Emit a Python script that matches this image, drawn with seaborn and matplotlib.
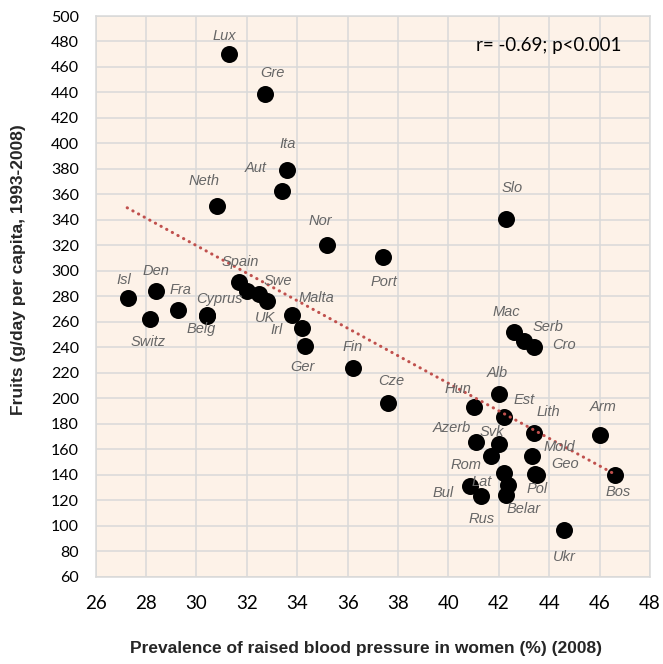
import matplotlib
matplotlib.use("Agg")
import matplotlib.pyplot as plt
import seaborn as sns
import pandas as pd

# ---- data ----
countries = ["Lux", "Gre", "Ita", "Aut", "Neth", "Nor", "Port", "Slo",
             "Isl", "Den", "Switz", "Fra", "Cyprus", "Belg", "Spain", "", "Swe", "UK",
             "Malta", "Irl", "Ger", "Fin", "Cze",
             "Mac", "Serb", "Cro", "Alb", "Hun", "Est", "Lith", "Arm", "Azerb", "Svk",
             "", "Mold", "Rom", "Pol", "Geo", "Bos", "Bul", "Rus", "Lat", "Belar", "Ukr"]
bp_women = [31.3, 32.7, 33.6, 33.4, 30.8, 35.2, 37.4, 42.3,
            27.3, 28.4, 28.15, 29.25, 30.4, 30.4, 31.7, 32.0, 32.5, 32.8,
            33.8, 34.2, 34.3, 36.2, 37.6,
            42.6, 43.0, 43.4, 42.0, 41.0, 42.2, 43.4, 46.0, 41.1, 42.0,
            41.7, 43.3, 42.2, 43.5, 43.45, 46.6, 40.85, 41.3, 42.35, 42.3, 44.6]
fruits = [470, 439, 379, 363, 351, 320, 311, 341,
          279, 284, 262, 269, 265, 264.5, 291, 284, 282, 276,
          265, 255, 241, 224, 196,
          252, 245, 240, 203, 193, 185, 173, 171, 166, 164,
          155, 155, 141.5, 140, 140.5, 140, 131, 123.5, 132, 124, 97]

# trend line end points
trend_x = [27.25, 46.55]
trend_y = [349.5, 141.0]

x_ticks = list(range(26, 49, 2))
y_ticks = list(range(60, 501, 20))
stat_text = "r= -0.69; p<0.001"
x_title = "Prevalence of raised blood pressure in women (%) (2008)"
y_title = "Fruits (g/day per capita, 1993-2008)"

# label offsets in pixels (layout only)
label_offsets = {
    "Lux": (-5, 18), "Gre": (8, 21), "Ita": (0, 26), "Aut": (-26, 23), "Neth": (-13, 25),
    "Nor": (-7, 24), "Port": (1, -25), "Slo": (6, 31), "Isl": (-5, 18), "Den": (0, 20),
    "Switz": (-2, -23), "Fra": (3, 20), "Cyprus": (13, 16), "Belg": (-5, -13),
    "Spain": (1, 20), "Swe": (18, 13), "UK": (-2, -17), "Malta": (24, 17), "Irl": (-26, -2),
    "Ger": (-2, -21), "Fin": (0, 21), "Cze": (3, 22), "Mac": (-8, 20), "Serb": (24, 14),
    "Cro": (30, 2), "Alb": (-2, 21), "Hun": (-16, 18), "Est": (20, 17), "Lith": (14, 21),
    "Arm": (3, 28), "Azerb": (-24, 14), "Svk": (-7, 12), "Mold": (28, 9), "Rom": (-38, 8),
    "Pol": (0, -14), "Geo": (30, 10), "Bos": (3, -17), "Bul": (-27, -7), "Rus": (0, -23),
    "Lat": (-26, 3), "Belar": (17, -14), "Ukr": (0, -27),
}

df = pd.DataFrame({"country": countries, "bp": bp_women, "fruit": fruits})

sns.set_theme(style="white")
plt.rcParams["font.family"] = ["Lato", "DejaVu Sans"]

W, H = 663, 664
fig = plt.figure(figsize=(W / 100, H / 100), dpi=100)
ax = fig.add_axes([95.7 / W, 1 - 576.7 / H, (650 - 95.7) / W, (576.7 - 16) / H])
ax.set_facecolor("#FDF2E8")

sns.scatterplot(data=df, x="bp", y="fruit", ax=ax, color="black", s=150,
                edgecolor="black", linewidth=0, zorder=3, legend=False)
ax.plot(trend_x, trend_y, color="#C0504D", lw=2.2, linestyle=(0, (0.1, 2.0)),
        dash_capstyle="round", zorder=4)

for name, xv, yv in zip(countries, bp_women, fruits):
    if not name:
        continue
    dx, dy = label_offsets[name]
    ax.annotate(name, (xv, yv), xytext=(dx, dy), textcoords="offset pixels",
                ha="center", va="center", fontsize=10.5, fontstyle="italic",
                color="#666666", family=["Liberation Sans", "DejaVu Sans"],
                zorder=5)

ax.text(41.1, 477, stat_text, ha="left", va="center", fontsize=13.5, color="black", zorder=6)

ax.set_xlim(26, 48)
ax.set_ylim(60, 500)
ax.set_xticks(x_ticks)
ax.set_yticks(y_ticks)
ax.set_xlabel("")
ax.set_ylabel("")
ax.grid(True, color="#D9D9D9", lw=1.1)
ax.set_axisbelow(True)
for sp in ax.spines.values():
    sp.set_color("#D9D9D9")
    sp.set_linewidth(1.1)
ax.tick_params(axis="x", length=0, pad=13, labelsize=13.5, labelcolor="black")
ax.tick_params(axis="y", length=0, pad=12, labelsize=11.5, labelcolor="black")

fig.text(365.5 / W, 1 - 648 / H, x_title, ha="center", va="center", fontsize=12.5,
         fontweight="bold", family=["Liberation Sans", "DejaVu Sans"])
fig.text(19 / W, 1 - 270 / H, y_title, ha="center", va="center", rotation=90, fontsize=12.5,
         fontweight="bold", family=["Liberation Sans", "DejaVu Sans"])

fig.savefig("out.png", dpi=100)
